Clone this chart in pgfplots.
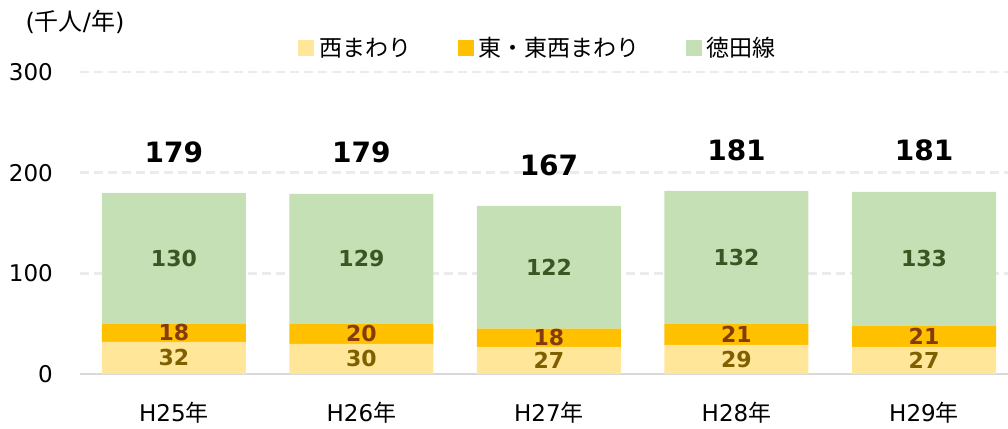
\documentclass[border=0pt]{standalone}
\usepackage{pgfplots}
\pgfplotsset{compat=1.18}
\usepackage{pgfplotstable}
\usepackage{fontspec}
\setmainfont{DejaVu Sans}
\newfontfamily\jp{Noto Sans CJK JP}
\definecolor{cW}{HTML}{FFE699}
\definecolor{cE}{HTML}{FFC000}
\definecolor{cT}{HTML}{C5E0B4}
\definecolor{lW}{HTML}{7F6000}
\definecolor{lE}{HTML}{843C0C}
\definecolor{lT}{HTML}{385723}
\pgfplotstableread{
x w e t total
0 32 18 130 179
1 30 20 129 179
2 27 18 122 167
3 29 21 132 181
4 27 21 133 181
}\data
\pgfplotsset{
  common/.style={
    at={(80pt,54pt)}, anchor=south west,
    scale only axis, width=928pt, height=302pt,
    xmin=-0.501, xmax=4.448, ymin=0, ymax=300, clip=false,
    /pgf/number format/assume math mode=true},
  segment labels/.style={
  point meta=explicit,
  nodes near coords,
  every node near coord/.append style={anchor=center, text=#1, font=\bfseries\fontsize{22}{22}\selectfont}}}
\begin{document}
\begin{tikzpicture}
\useasboundingbox (0,0) rectangle (1008pt,428pt);
\begin{axis}[
  common,
  ybar stacked, bar width=144pt,
  axis line style={draw=none},
  axis x line*=bottom,
  xtick=data, xticklabels={H25{\jp 年},H26{\jp 年},H27{\jp 年},H28{\jp 年},H29{\jp 年}},
  xticklabel style={font=\fontsize{23}{23}\selectfont, anchor=center, inner sep=0pt, yshift=-39pt},
  ytick={0,100,200,300},
  yticklabel style={font=\fontsize{23}{23}\selectfont, anchor=east, inner sep=0pt, xshift=-27pt},
  major tick length=0pt,
  ymajorgrids, grid style={draw=black!8, line width=2.5pt, dash pattern=on 9pt off 5pt},
  legend columns=3,
  legend style={draw=none, at={(458/928,1.0795)}, anchor=center, font=\jp\fontsize{23}{23}\selectfont,
    /tikz/every odd column/.append style={column sep=3pt},
    /tikz/every even column/.append style={column sep=44pt}},
  legend image code/.code={\fill[#1] (0pt,-8pt) rectangle (16pt,8pt);},
]
\addplot[fill=cW, draw=none, segment labels=lW] table[x=x, y=w, meta=w]{\data};
\addplot[fill=cE, draw=none, segment labels=lE] table[x=x, y=e, meta=e]{\data};
\addplot[fill=cT, draw=none, segment labels=lT] table[x=x, y=t, meta=t]{\data};
\legend{西まわり,東・東西まわり,徳田線}
\draw[black!15, line width=1.5pt] (rel axis cs:0,0) -- (rel axis cs:1,0);
\end{axis}
\begin{axis}[common, hide axis]
\addplot[draw=none, mark=none, point meta=explicit,
  nodes near coords,
  every node near coord/.append style={anchor=center, yshift=41pt, text=black, font=\bfseries\fontsize{28}{28}\selectfont}]
  table[x=x, y=total, meta=total]{\data};
\end{axis}
\node[font=\fontsize{24}{24}\selectfont, anchor=center] at (75pt,406pt) {(\jp 千人\rm/\jp 年\rm)};
\end{tikzpicture}
\end{document}
